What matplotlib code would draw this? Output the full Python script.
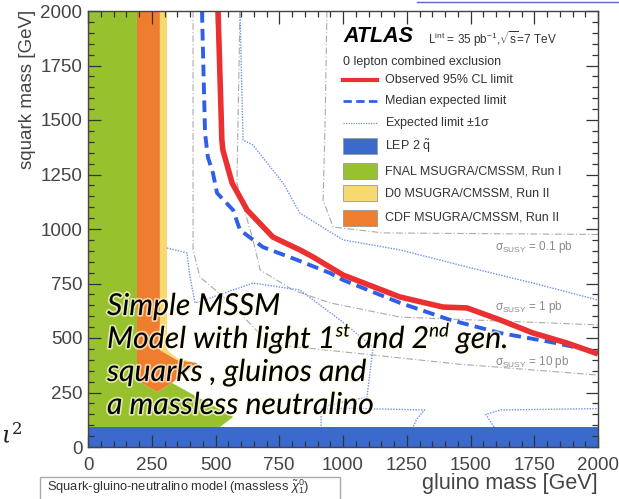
import matplotlib
matplotlib.use("Agg")
import matplotlib.pyplot as plt
from matplotlib.lines import Line2D
from matplotlib.patches import Rectangle
import matplotlib.patheffects as pe

plt.rcParams['font.family'] = ['Liberation Sans', 'DejaVu Sans']
plt.rcParams['mathtext.fontset'] = 'custom'
plt.rcParams['mathtext.rm'] = 'Liberation Sans'
plt.rcParams['mathtext.it'] = 'Liberation Sans:italic'
plt.rcParams['mathtext.bf'] = 'Liberation Sans:bold'

# ---------------- data (GeV) ----------------
lep_top = 92

fnal_x = [0, 192, 192, 271, 329, 569, 518, 0]
fnal_y = [2000, 2000, 307, 252, 294, 138, 92, 92]

cdf_x = [192, 282, 282, 349, 430, 329, 271, 192]
cdf_y = [2000, 2000, 445, 399, 385, 294, 252, 307]

d0_x = [282, 310, 310, 349, 430, 349, 282]
d0_y = [2000, 2000, 445, 408, 385, 399, 445]

obs_x = [510, 525, 529, 565, 624, 725, 831, 882, 1000, 1224, 1392, 1486, 1616, 1745, 1878, 2000]
obs_y = [2000, 1408, 1362, 1211, 1087, 963, 904, 872, 789, 688, 642, 638, 583, 523, 477, 427]

exp_x = [447, 459, 470, 490, 506, 569, 596, 686, 820, 949, 1000, 1224, 1420, 1616, 1812, 2000]
exp_y = [2000, 1440, 1330, 1257, 1165, 1087, 995, 917, 858, 798, 766, 661, 583, 523, 482, 436]

up1s_x = [596, 608, 647, 765, 831, 1000, 1224, 1486, 1745, 2000]
up1s_y = [2000, 1408, 1385, 1211, 1073, 950, 904, 826, 752, 674]

dn1s_x = [310, 388, 400, 420, 490, 647, 831, 988, 1118, 1094, 949, 914, 914]
dn1s_y = [913, 890, 780, 661, 688, 752, 720, 583, 459, 229, 193, 174, 92]

isl1_x = [914, 1000, 1320, 1290, 1275]
isl1_y = [174, 178, 170, 130, 92]

isl2_x = [1592, 1560, 1620, 2000]
isl2_y = [92, 150, 170, 176]

xs01_x = [937, 930, 922, 961, 1157, 2000]
xs01_y = [2000, 1500, 1133, 1009, 982, 975]

xs1_x = [596, 590, 584, 647, 675, 804, 949, 1224, 2000]
xs1_y = [2000, 1600, 1211, 950, 812, 720, 661, 596, 560]

xs10_x = [412, 412, 412, 439, 545, 714, 1455, 2000]
xs10_y = [2000, 1500, 904, 780, 674, 472, 380, 330]

xticks = [0, 250, 500, 750, 1000, 1250, 1500, 1750, 2000]
yticks = [0, 250, 500, 750, 1000, 1250, 1500, 1750, 2000]

xs_labels = [r"$\mathrm{\sigma}_{\mathrm{SUSY}}$ = 0.1 pb",
             r"$\mathrm{\sigma}_{\mathrm{SUSY}}$ = 1 pb",
             r"$\mathrm{\sigma}_{\mathrm{SUSY}}$ = 10 pb"]
xs_label_y = [917, 642, 390]

# ---------------- colours ----------------
c_lep = '#3a6acc'
c_fnal = '#97c22e'
c_cdf = '#ee7d2e'
c_d0 = '#f8d870'
c_obs = '#ea3030'
c_exp = '#2f5fe8'
c_1s = '#6f8ff0'

W, H = 619, 499
fig = plt.figure(figsize=(W / 100, H / 100), dpi=100)
ax = fig.add_axes([88 / W, 1 - 447 / H, 510 / W, 436 / H])
ax.set_xlim(0, 2000)
ax.set_ylim(0, 2000)

ax.fill(fnal_x, fnal_y, color=c_fnal, lw=0, zorder=1)
ax.fill(cdf_x, cdf_y, color=c_cdf, lw=0, zorder=1.1)
ax.fill(d0_x, d0_y, color=c_d0, lw=0, zorder=1.2)
ax.fill([0, 2000, 2000, 0], [0, 0, lep_top, lep_top], color=c_lep, lw=0, zorder=1.3)

dd = (0, (6, 2, 1, 2))
for xx, yy in [(xs01_x, xs01_y), (xs1_x, xs1_y), (xs10_x, xs10_y)]:
    ax.plot(xx, yy, color='#aaaaaa', lw=0.8, ls=dd, zorder=1.5)

for xx, yy in [(up1s_x, up1s_y), (dn1s_x, dn1s_y), (isl1_x, isl1_y), (isl2_x, isl2_y)]:
    ax.plot(xx, yy, color=c_1s, lw=1.0, ls=(0, (1, 1)), zorder=1.6)

ax.plot(exp_x, exp_y, color=c_exp, lw=2.8, ls=(0, (3, 1.6)), zorder=2)
ax.plot(obs_x, obs_y, color=c_obs, lw=4, solid_capstyle='butt', zorder=2.1)

for lab, yy in zip(xs_labels, xs_label_y):
    ax.text(1596, yy, lab, color='#8a8a8a', fontsize=8.5, va='center', ha='left')

# axes styling
ax.set_xticks(xticks)
ax.set_yticks(yticks)
ax.set_xticks(range(0, 2001, 50), minor=True)
ax.set_yticks(range(0, 2001, 50), minor=True)
ax.tick_params(which='both', direction='in', top=True, right=True, color='#333333', width=0.9)
ax.tick_params(which='major', length=9, labelsize=13.5, labelcolor='#444444')
ax.tick_params(which='minor', length=4.5)
ax.tick_params(axis='x', which='major', pad=7)
ax.tick_params(axis='y', which='major', pad=4)
for s in ax.spines.values():
    s.set_color('#444444')
    s.set_linewidth(1.0)

# axis titles
fig.text(27 / W, 1 - 10 / H, 'squark mass [GeV]', rotation=90, ha='center', va='top',
         fontsize=13.5, color='#444444')
fig.text(598 / W, 1 - 483 / H, 'gluino mass [GeV]', ha='right', va='center',
         fontsize=15.5, color='#444444')

# ---------------- legend (manual) ----------------
def ax_xy(px, py):
    return ((px - 88) / 510, (447 - py) / 436)

tx = ax.transAxes
x0, y0 = ax_xy(343, 37)
ax.text(x0, y0, 'ATLAS', transform=tx, fontsize=15.5, fontweight='bold', fontstyle='italic',
        va='center', ha='left', color='black', zorder=5)
x1, y1 = ax_xy(428, 39)
ax.text(x1, y1, r"L$^{\mathrm{int}}$ = 35 pb$^{-1}$,$\sqrt{\mathrm{s}}$=7 TeV", transform=tx,
        fontsize=8.5, va='center', ha='left', color='#333333', zorder=5)
x2, y2 = ax_xy(343, 62)
ax.text(x2, y2, '0 lepton combined exclusion', transform=tx, fontsize=9, va='center',
        ha='left', color='#333333', zorder=5)

hx0, _ = ax_xy(343, 0)
hx1, _ = ax_xy(377, 0)
lx, _ = ax_xy(385, 0)
rows_line = [(80, 'Observed 95% CL limit', dict(color=c_obs, lw=3, ls='-')),
             (101, 'Median expected limit', dict(color=c_exp, lw=2, ls=(0, (3, 1.6)))),
             (123, r'Expected limit $\pm$1$\mathrm{\sigma}$', dict(color=c_1s, lw=0.9, ls=(0, (1, 1))))]
for py, lab, st in rows_line:
    _, yy = ax_xy(0, py)
    ax.add_line(Line2D([hx0, hx1], [yy, yy], transform=tx, zorder=5, **st))
    ax.text(lx, yy, lab, transform=tx, fontsize=9, va='center', ha='left', color='#333333', zorder=5)

rows_box = [(146, r'LEP 2 $\tilde{\mathrm{q}}$', c_lep),
            (171, 'FNAL MSUGRA/CMSSM, Run I', c_fnal),
            (193, 'D0 MSUGRA/CMSSM, Run II', c_d0),
            (218, 'CDF MSUGRA/CMSSM, Run II', c_cdf)]
bh = 16 / 436
for py, lab, c in rows_box:
    _, yy = ax_xy(0, py)
    ax.add_patch(Rectangle((hx0, yy - bh / 2), hx1 - hx0, bh, transform=tx, facecolor=c,
                           edgecolor='#999999', lw=0.6, zorder=5))
    ax.text(lx, yy, lab, transform=tx, fontsize=9, va='center', ha='left', color='#333333', zorder=5)

# ---------------- overlay annotations ----------------
fig.add_artist(Line2D([417 / W, 1.0], [1 - 2 / H, 1 - 2 / H], color='#6464b4', lw=1.0))

fig.text(47 / W, 1 - 487 / H,
         r"Squark-gluino-neutralino model (massless $\tilde{\chi}_1^0$)",
         fontsize=9.3, color='#333333', ha='left', va='center')
fig.add_artist(Rectangle((40 / W, 0 - 0.01), 300 / W, (499 - 477) / H + 0.01,
                         transform=fig.transFigure, facecolor='none', edgecolor='#aaaaaa', lw=1))

fig.text(1 / W, 1 - 436 / H, r"$\iota^2$", fontsize=17, color='#222222',
         ha='left', va='center', math_fontfamily='dejavuserif')

# italic text block, fitted to reference width
renderer = fig.canvas.get_renderer()
fam = ['Lato', 'DejaVu Sans']
probe = fig.text(0, 0, 'Simple MSSM', fontsize=20, family=fam, style='italic')
wprobe = probe.get_window_extent(renderer).width
probe.remove()
fs = 20 * 173.0 / wprobe

glow = [pe.withStroke(linewidth=2.5, foreground='#fffbe0', alpha=0.7)]

def put(px, py, s, size):
    t = fig.text(px / W, 1 - py / H, s, fontsize=size, family=fam, style='italic', color='black',
                 ha='left', va='baseline', zorder=10, path_effects=glow)
    return t.get_window_extent(renderer).width

def width(s, size):
    t = fig.text(0, 0, s, fontsize=size, family=fam, style='italic')
    w = t.get_window_extent(renderer).width
    t.remove()
    return w

space = width('a a', fs) - width('aa', fs)
xl = 107
put(xl, 315, 'Simple MSSM', fs)
bx = xl
raise_px = fs * 100 / 72 * 0.38
sfs = fs * 0.62
bx += put(bx, 348, 'Model with light 1', fs)
bx += put(bx, 348 - raise_px, 'st', sfs)
bx += space
bx += put(bx, 348, 'and 2', fs)
bx += put(bx, 348 - raise_px, 'nd', sfs)
bx += space
put(bx, 348, 'gen.', fs)
put(xl, 381, 'squarks , gluinos and', fs)
put(xl, 414, 'a massless neutralino', fs)

fig.savefig('out.png', dpi=100)
